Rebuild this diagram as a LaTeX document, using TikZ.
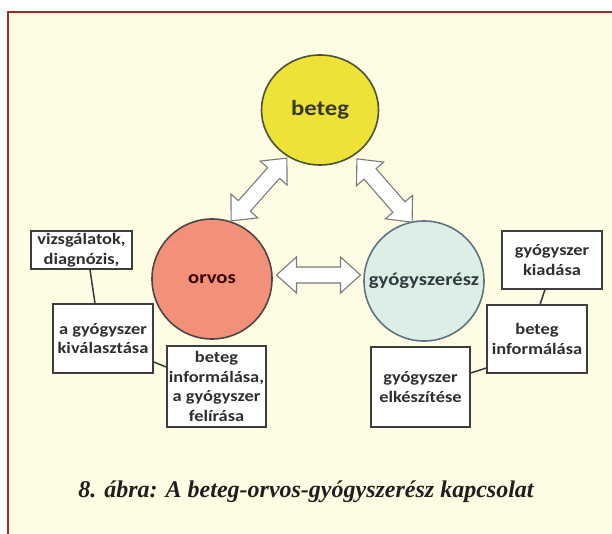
\documentclass[tikz,border=0pt]{standalone}
\usepackage{fontspec}
\setmainfont{Liberation Serif}
\newfontfamily\boxfont[FakeStretch=1.15]{Carlito}
\usetikzlibrary{shapes.geometric}
\definecolor{cream}{HTML}{FFFCE4}
\definecolor{framec}{HTML}{9A2E2A}
\definecolor{yel}{HTML}{EEE236}
\definecolor{yelb}{HTML}{4C5236}
\definecolor{salmon}{HTML}{F39079}
\definecolor{salb}{HTML}{4E4646}
\definecolor{mint}{HTML}{DCEEE6}
\definecolor{mintb}{HTML}{5E7482}
\definecolor{boxb}{HTML}{3E3E3E}
\definecolor{arrb}{HTML}{7A7A7A}
\tikzset{
  bigc/.style={draw, line width=1.6pt, inner sep=0pt, font=\boxfont\bfseries},
  infobox/.style={draw=boxb, fill=white, line width=1.2pt, inner sep=2pt, align=center,
    font=\boxfont\bfseries\fontsize{16}{19.5}\selectfont, text=black!82},
  link/.style={draw=boxb!90!black, line width=1.5pt},
  blockarr/.style={draw=arrb, fill=white, line width=1.1pt, line join=miter},
  dblarr/.pic={\path[blockarr] (-42,0) -- (-22,18) -- (-22,8) -- (22,8) -- (22,18) -- (42,0)
     -- (22,-18) -- (22,-8) -- (-22,-8) -- (-22,-18) -- cycle;}
}
\begin{document}
\begin{tikzpicture}[x=1pt, y=-1pt]
\useasboundingbox (0,0) rectangle (612,534);
\fill[white] (0,0) rectangle (612,534);
\fill[cream] (7.5,12.5) rectangle (612,534);
\draw[framec, line width=2pt] (7.5,534) -- (7.5,12.5) -- (612,12.5);

% circles
\node[bigc, ellipse, fill=yel, draw=yelb, minimum width=117pt, minimum height=110pt,
      font=\boxfont\bfseries\fontsize{21.5}{24}\selectfont, text=yelb!70!black] (beteg) at (320,110) {beteg};
\node[bigc, circle, fill=salmon, draw=salb, minimum size=120pt,
      font=\boxfont\bfseries\fontsize{18}{22}\selectfont, text=black!80!red] (orvos) at (212,279) {orvos};
\node[bigc, circle, fill=mint, draw=mintb, minimum size=120pt,
      font=\boxfont\bfseries\fontsize{18}{22}\selectfont, text=mintb!50!black] (gyogy) at (424,281) {gyógyszerész};

% block arrows
\path (259,189.5) pic[rotate=48.4] {dblarr};
\path (384.5,190.5) pic[rotate=-48.9] {dblarr};
\path (318.5,275) pic {dblarr};

% boxes left
\node[infobox, minimum width=101pt, minimum height=38pt] (L1) at (81.5,250) {vizsgálatok,\\diagnózis,};
\node[infobox, minimum width=100pt, minimum height=69pt] (L2) at (103,338.5) {a gyógyszer\\kiválasztása};
\node[infobox, minimum width=97pt, minimum height=81pt] (L3) at (216.5,386.5) {beteg\\informálása,\\a gyógyszer\\felírása};
% boxes right
\node[infobox, minimum width=100pt, minimum height=58pt] (R1) at (552,260) {gyógyszer\\kiadása};
\node[infobox, minimum width=100pt, minimum height=68pt] (R2) at (537,339) {beteg\\informálása};
\node[infobox, minimum width=99pt, minimum height=80pt] (R3) at (420.5,387) {gyógyszer\\elkészítése};

% links
\draw[link] ([xshift=8.5pt]L1.south) -- ([xshift=-8pt]L2.north);
\draw[link] ([yshift=-23.5pt]L2.east) -- ([yshift=19.5pt]L3.west);
\draw[link] ([xshift=-7pt]R1.south) -- ([xshift=3pt]R2.north);
\draw[link] ([yshift=-29pt]R2.west) -- ([yshift=14pt]R3.east);

% caption
\node[font=\bfseries\itshape\fontsize{24}{28}\selectfont, text=black!88] (cap) at (306,492)
  {8. ábra: A beteg-orvos-gyógyszerész kapcsolat};
\end{tikzpicture}
\end{document}
